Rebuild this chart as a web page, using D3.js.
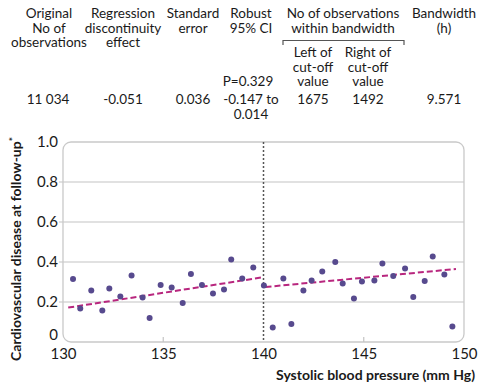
<!DOCTYPE html>
<html>
<head>
<meta charset="utf-8">
<script src="https://cdn.jsdelivr.net/npm/d3@7"></script>
<style>
html,body{margin:0;padding:0;background:#fff;}
svg{display:block;font-family:Lato,"Noto Sans",sans-serif;}
</style>
</head>
<body>
<svg id="chart" width="495" height="387"></svg>
<script>
// ---- data ----
const sbpLeft = [130.5,130.86,131.41,131.96,132.31,132.86,133.42,133.97,134.32,134.87,135.42,135.97,136.38,136.93,137.48,138.03,138.39,138.94,139.49,140.02];
const cvdLeft = [0.315,0.167,0.258,0.158,0.267,0.227,0.332,0.223,0.12,0.285,0.272,0.195,0.34,0.285,0.243,0.263,0.413,0.318,0.373,0.283];
const sbpRight = [140.46,140.99,141.39,141.99,142.40,142.93,143.58,143.95,144.51,144.91,145.53,145.93,146.47,147.06,147.47,148.04,148.44,149.02,149.42];
const cvdRight = [0.073,0.318,0.09,0.258,0.307,0.352,0.40,0.293,0.217,0.303,0.308,0.393,0.33,0.367,0.225,0.305,0.427,0.337,0.077];
const fitLeftX = [130.26,140.0];
const fitLeftY = [0.172,0.324];
const fitRightX = [140.1,149.6];
const fitRightY = [0.275,0.365];
const cutoff = 140;
const xTicks = [130,135,140,145,150];
const yTicks = [0,0.2,0.4,0.6,0.8,1.0];

// header table
const headerCols = [
  {x:49, lines:["Original","No of","observations"]},
  {x:123, lines:["Regression","discontinuity","effect"]},
  {x:193, lines:["Standard","error"]},
  {x:251, lines:["Robust","95% CI"]},
  {x:343, lines:["No of observations","within bandwidth"]},
  {x:444, lines:["Bandwidth","(h)"]}
];
const subCols = [
  {x:313, lines:["Left of","cut-off","value"]},
  {x:368, lines:["Right of","cut-off","value"]}
];
const pValueText = "P=0.329";
const rowValues = [
  {x:48, lines:["11 034"]},
  {x:123, lines:["-0.051"]},
  {x:193, lines:["0.036"]},
  {x:251, lines:["-0.147 to","0.014"]},
  {x:313, lines:["1675"]},
  {x:368, lines:["1492"]},
  {x:444, lines:["9.571"]}
];

const svg = d3.select("#chart");
const textCol = "#1a1a1a";
const fs = 13.5;
const lh = 14.5;

function drawLines(g, x, y0, lines){
  lines.forEach((l,i)=>{
    g.append("text").attr("x",x).attr("y",y0+i*lh)
      .attr("text-anchor","middle").attr("font-size",fs).attr("fill",textCol).text(l);
  });
}
const hdr = svg.append("g");
headerCols.forEach(c=>drawLines(hdr,c.x,18,c.lines));
subCols.forEach(c=>drawLines(hdr,c.x,57,c.lines));
drawLines(hdr,248,86,[pValueText]);
rowValues.forEach(c=>drawLines(hdr,c.x,104,c.lines));
// bracket
hdr.append("path").attr("d","M283,45 V40.5 H404 V45").attr("fill","none").attr("stroke","#555").attr("stroke-width",1.2);

// ---- plot ----
const x = d3.scaleLinear().domain([130,150]).range([63,464]);
const y = d3.scaleLinear().domain([0,1]).range([342,142]);
const plot = svg.append("g");

// gridlines
plot.selectAll("line.grid").data(yTicks.filter(d=>d>0 && d<1)).join("line")
  .attr("x1",x(130)-4).attr("x2",x(150)).attr("y1",d=>y(d)).attr("y2",d=>y(d))
  .attr("stroke","#c4c4c4").attr("stroke-width",1.2);

// panel
plot.append("rect").attr("x",x(130)).attr("y",y(1)).attr("width",x(150)-x(130)).attr("height",y(0)-y(1))
  .attr("rx",8).attr("fill","none").attr("stroke","#c9c9c9").attr("stroke-width",1.3);

// small x ticks
plot.selectAll("line.xt").data([135,145]).join("line")
  .attr("x1",d=>x(d)).attr("x2",d=>x(d)).attr("y1",y(0)).attr("y2",y(0)-5)
  .attr("stroke","#c4c4c4").attr("stroke-width",1.2);

// axes labels
const yAxis = d3.axisLeft(y).tickValues(yTicks).tickSize(0).tickPadding(0)
  .tickFormat(d=>d===0?"0":d3.format(".1f")(d));
const ya = plot.append("g").attr("transform",`translate(${x(130)-5},0)`).call(yAxis);
ya.select(".domain").remove();
ya.selectAll("text").attr("font-size",15).attr("fill",textCol).attr("font-family","Lato, sans-serif").attr("dy","0.32em");
ya.selectAll(".tick").filter(d=>d===0).select("text").attr("dy","-0.15em");

const xAxis = d3.axisBottom(x).tickValues(xTicks).tickSize(0).tickPadding(6).tickFormat(d3.format("d"));
const xa = plot.append("g").attr("transform",`translate(0,${y(0)})`).call(xAxis);
xa.select(".domain").remove();
xa.selectAll("text").attr("font-size",15).attr("fill",textCol).attr("font-family","Lato, sans-serif");

// cutoff line
plot.append("line").attr("x1",x(cutoff)).attr("x2",x(cutoff)).attr("y1",y(1)).attr("y2",y(0))
  .attr("stroke","#555").attr("stroke-width",1.5).attr("stroke-dasharray","2,2");

// fitted lines
const fitCol = "#b8267e";
[[fitLeftX,fitLeftY],[fitRightX,fitRightY]].forEach(([xs,ys])=>{
  plot.append("path").datum(xs.map((v,i)=>[v,ys[i]]))
    .attr("d",d3.line().x(d=>x(d[0])).y(d=>y(d[1])))
    .attr("fill","none").attr("stroke",fitCol).attr("stroke-width",2).attr("stroke-dasharray","6,3");
});

// points
const dotCol = "#574a8e";
const pts = sbpLeft.map((v,i)=>[v,cvdLeft[i]]).concat(sbpRight.map((v,i)=>[v,cvdRight[i]]));
plot.selectAll("circle.pt").data(pts).join("circle")
  .attr("cx",d=>x(d[0])).attr("cy",d=>y(d[1])).attr("r",3).attr("fill",dotCol);

// axis titles
svg.append("text").attr("x",475).attr("y",380).attr("text-anchor","end")
  .attr("font-size",14).attr("font-weight","bold").attr("fill",textCol).text("Systolic blood pressure (mm Hg)");
const yt = svg.append("text").attr("transform","translate(21,249) rotate(-90)").attr("text-anchor","middle")
  .attr("font-size",14).attr("font-weight","bold").attr("fill",textCol);
yt.append("tspan").text("Cardiovascular disease at follow-up");
yt.append("tspan").attr("dy","-5").attr("font-size",10).text("*");
</script>
</body>
</html>
